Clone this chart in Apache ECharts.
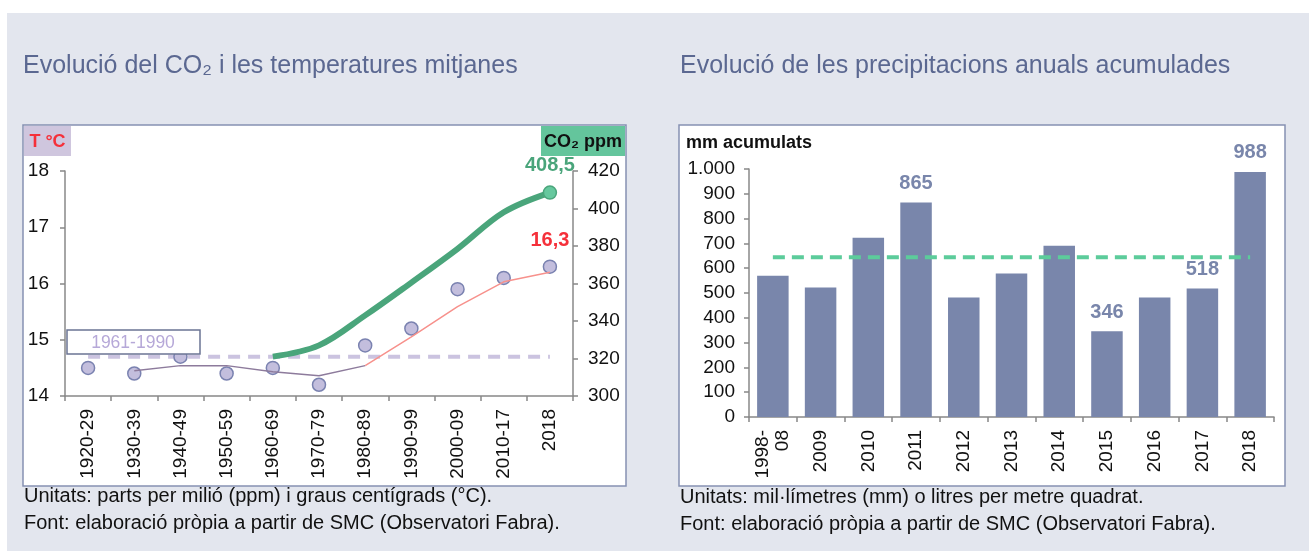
<!DOCTYPE html>
<html>
<head>
<meta charset="utf-8">
<script src="https://cdn.jsdelivr.net/npm/echarts@6/dist/echarts.min.js"></script>
<style>
html,body{margin:0;padding:0;background:#fff;}
#main{width:1309px;height:551px;}
</style>
</head>
<body>
<div id="main"></div>
<script>
//CO2 i temperatures
var decades = ['1920-29','1930-39','1940-49','1950-59','1960-69','1970-79','1980-89','1990-99','2000-09','2010-17','2018'];
var tempMean = [14.5,14.4,14.7,14.4,14.5,14.2,14.9,15.2,15.9,16.1,16.3];
var tempTrendOld = ['-',14.45,14.54,14.54,14.43,14.36,14.54,'-','-','-','-'];
var tempTrendNew = ['-','-','-','-','-','-',14.54,15.05,15.59,16.03,16.2];
var co2 = ['-','-','-','-',321,327,343,360.5,378.5,398,408.5];
var tempRef = 14.7;
var refLabel = '1961-1990';

//precipitacions
var years = ['1998-\n08','2009','2010','2011','2012','2013','2014','2015','2016','2017','2018'];
var rain = [570,522,723,865,482,579,691,346,482,518,988];
var rainRef = 644;
var rainLabelled = ['2011','2015','2017','2018'];

var FONT = '"Liberation Sans", Arial, sans-serif';
var BAR = '#7986ab';
var GREEN = '#4aa57b';

function coma(v) {
    return String(v).replace('.', ',');
}
function milers(v) {
    return String(v).replace(/\B(?=(\d{3})+(?!\d))/g, '.');
}

var chart = echarts.init(document.getElementById('main'));

var axisLine = {lineStyle: {color: '#888', width: 1.5}};
var axisTick = {show: true, inside: false, length: 5, lineStyle: {color: '#888', width: 1.5}};
var axisText = {color: '#111', fontSize: 19, fontFamily: FONT};

// dades amb etiqueta a l'ultim punt
var tempData = tempMean.map(function (v, i) {
    if (i == tempMean.length - 1) {
        return {value: v, label: {show: true, position: 'top', distance: 9, formatter: function (p) { return coma(p.value); },
            color: '#f5303a', fontWeight: 'bold', fontSize: 20, fontFamily: FONT}};
    }
    return v;
});
var co2Data = co2.map(function (v, i) {
    if (i == co2.length - 1) {
        return {value: v, symbol: 'circle', symbolSize: 13,
            itemStyle: {color: '#66c89e', borderColor: GREEN, borderWidth: 1.5},
            label: {show: true, position: 'top', distance: 10, formatter: function (p) { return coma(p.value); },
                color: GREEN, fontWeight: 'bold', fontSize: 20, fontFamily: FONT}};
    }
    return v;
});
var rainData = rain.map(function (v, i) {
    if (rainLabelled.indexOf(years[i]) >= 0) {
        return {value: v, label: {show: true, position: 'top', distance: 9, color: BAR, fontWeight: 'bold', fontSize: 20, fontFamily: FONT}};
    }
    return v;
});
var rainRefData = years.map(function (y, i) {
    if (i == 5) {
        return {value: rainRef, label: {show: true, position: 'top', distance: 15, formatter: refLabel,
            color: '#6ccfa3', fontSize: 17.5, fontFamily: FONT}};
    }
    return rainRef;
});

option = {
    animation: false,
    title: [{
        text: 'Evolució del CO₂ i les temperatures mitjanes',
        left: 23, top: 54, padding: 0,
        textStyle: {color: '#5b6891', fontSize: 25, fontWeight: 'normal', fontFamily: FONT}
    }, {
        text: 'Evolució de les precipitacions anuals acumulades',
        left: 680, top: 54, padding: 0,
        textStyle: {color: '#5b6891', fontSize: 25, fontWeight: 'normal', fontFamily: FONT}
    }],
    grid: [
        {left: 65, right: 736, top: 171, bottom: 155},
        {left: 749, right: 35, top: 169, bottom: 134}
    ],
    xAxis: [{
        type: 'category', gridIndex: 0, data: decades,
        axisLine: axisLine, axisTick: axisTick,
        axisLabel: {rotate: 90, margin: 13, color: '#111', fontSize: 19, fontFamily: FONT}
    }, {
        type: 'category', gridIndex: 1, data: years,
        axisLine: axisLine, axisTick: axisTick,
        axisLabel: {rotate: 90, margin: 13, color: '#111', fontSize: 19, fontFamily: FONT, lineHeight: 20}
    }],
    yAxis: [{
        type: 'value', gridIndex: 0, position: 'left', min: 14, max: 18, interval: 1,
        axisLine: {show: true, lineStyle: axisLine.lineStyle}, axisTick: axisTick,
        splitLine: {show: false},
        axisLabel: Object.assign({margin: 16}, axisText)
    }, {
        type: 'value', gridIndex: 0, position: 'right', min: 300, max: 420, interval: 20,
        axisLine: {show: true, lineStyle: axisLine.lineStyle}, axisTick: axisTick,
        splitLine: {show: false},
        axisLabel: Object.assign({margin: 15}, axisText)
    }, {
        type: 'value', gridIndex: 1, min: 0, max: 1000, interval: 100,
        axisLine: {show: true, lineStyle: axisLine.lineStyle}, axisTick: axisTick,
        splitLine: {show: false},
        axisLabel: Object.assign({margin: 14, formatter: milers}, axisText)
    }],
    series: [{
        name: 'ref temp', type: 'line', xAxisIndex: 0, yAxisIndex: 0, z: 1, silent: true,
        data: decades.map(function () { return tempRef; }),
        symbol: 'none',
        lineStyle: {color: '#cbc3e0', width: 4, type: [12, 8]}
    }, {
        name: 'temperatura', type: 'scatter', xAxisIndex: 0, yAxisIndex: 0, z: 3,
        data: tempData, symbolSize: 13,
        itemStyle: {color: '#c3bedd', borderColor: '#7a82b0', borderWidth: 1.5, opacity: 1}
    }, {
        name: 'tendencia', type: 'line', xAxisIndex: 0, yAxisIndex: 0, z: 4,
        data: tempTrendOld, symbol: 'none',
        lineStyle: {color: '#8d7b9c', width: 1.5}
    }, {
        name: 'tendencia 2', type: 'line', xAxisIndex: 0, yAxisIndex: 0, z: 4,
        data: tempTrendNew, symbol: 'none',
        lineStyle: {color: '#f7918c', width: 1.5}
    }, {
        name: 'CO2', type: 'line', xAxisIndex: 0, yAxisIndex: 1, z: 5,
        data: co2Data, symbol: 'none', smooth: 0.35,
        lineStyle: {color: GREEN, width: 6}
    }, {
        name: 'precipitacio', type: 'bar', xAxisIndex: 1, yAxisIndex: 2,
        data: rainData, barCategoryGap: '34%',
        itemStyle: {color: BAR}
    }, {
        name: 'ref pluja', type: 'line', xAxisIndex: 1, yAxisIndex: 2, z: 5,
        data: rainRefData, symbol: 'none',
        lineStyle: {color: '#5ccc9b', width: 4, type: [12, 7]}
    }],
    graphic: [
        {type: 'rect', z: -100, shape: {x: 7, y: 13, width: 1302, height: 538}, style: {fill: '#e3e6ee'}},
        {type: 'rect', z: -90, shape: {x: 23, y: 125, width: 603, height: 361}, style: {fill: '#fff', stroke: '#8691b3', lineWidth: 1.5}},
        {type: 'rect', z: -90, shape: {x: 679, y: 125, width: 606, height: 361}, style: {fill: '#fff', stroke: '#8691b3', lineWidth: 1.5}},
        {type: 'rect', z: 10, shape: {x: 24, y: 126, width: 47, height: 30}, style: {fill: '#cfc6de'}},
        {type: 'text', z: 11, style: {text: 'T °C', x: 47.5, y: 142, align: 'center', verticalAlign: 'middle',
            fill: '#f5303a', fontSize: 18, fontWeight: 'bold', fontFamily: FONT}},
        {type: 'rect', z: 10, shape: {x: 541, y: 126, width: 84, height: 30}, style: {fill: '#64c59c'}},
        {type: 'text', z: 11, style: {text: 'CO₂ ppm', x: 583, y: 142, align: 'center', verticalAlign: 'middle',
            fill: '#111', fontSize: 18, fontWeight: 'bold', fontFamily: FONT}},
        {type: 'rect', z: 10, shape: {x: 67, y: 330, width: 133, height: 24}, style: {fill: '#fff', stroke: '#6b7494', lineWidth: 1.5}},
        {type: 'text', z: 11, style: {text: refLabel, x: 133, y: 343, align: 'center', verticalAlign: 'middle',
            fill: '#b6a8d8', fontSize: 17.5, fontFamily: FONT}},
        {type: 'text', z: 11, style: {text: 'mm acumulats', x: 686, y: 143, verticalAlign: 'middle',
            fill: '#111', fontSize: 18, fontWeight: 'bold', fontFamily: FONT}},
        {type: 'text', style: {text: 'Unitats: parts per milió (ppm) i graus centígrads (°C).', x: 24, y: 496, verticalAlign: 'middle',
            fill: '#111', fontSize: 20, fontFamily: FONT}},
        {type: 'text', style: {text: 'Font: elaboració pròpia a partir de SMC (Observatori Fabra).', x: 24, y: 523, verticalAlign: 'middle',
            fill: '#111', fontSize: 20, fontFamily: FONT}},
        {type: 'text', style: {text: 'Unitats: mil·límetres (mm) o litres per metre quadrat.', x: 680, y: 497, verticalAlign: 'middle',
            fill: '#111', fontSize: 20, fontFamily: FONT}},
        {type: 'text', style: {text: 'Font: elaboració pròpia a partir de SMC (Observatori Fabra).', x: 680, y: 524, verticalAlign: 'middle',
            fill: '#111', fontSize: 20, fontFamily: FONT}}
    ]
};
chart.setOption(option);
</script>
</body>
</html>
